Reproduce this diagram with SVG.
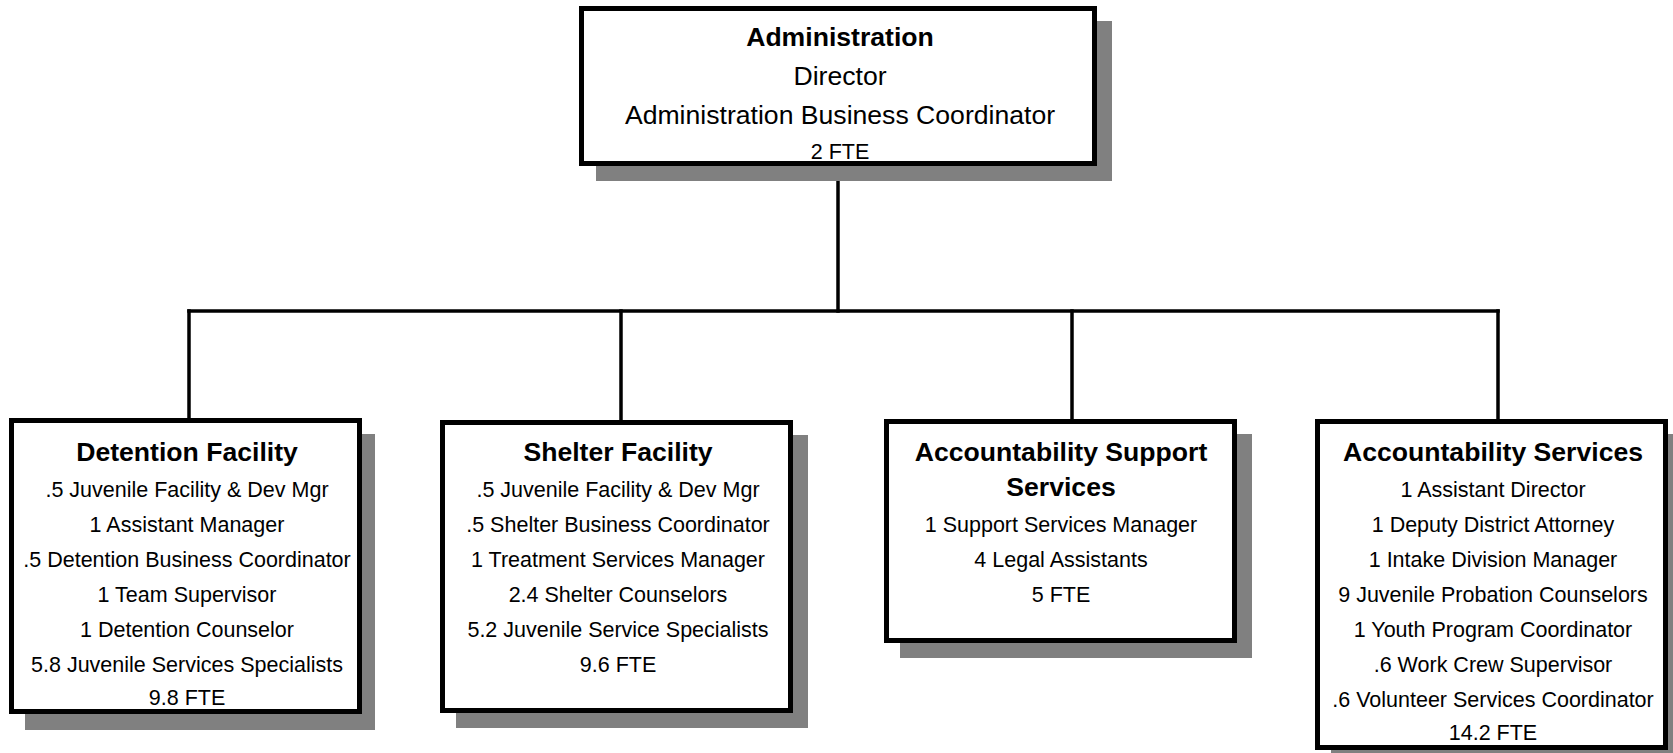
<svg xmlns="http://www.w3.org/2000/svg" width="1673" height="753" viewBox="0 0 1673 753">
  <style>
    .shadow { fill: #808080; }
    .box { fill: #ffffff; stroke: #000000; stroke-width: 5; }
    .wire { fill: none; stroke: #000000; stroke-width: 3.5; stroke-linecap: square; }
    text { font-family: "Liberation Sans", Arial, sans-serif; fill: #000000; text-anchor: middle; }
    .title { font-size: 26.6px; font-weight: bold; }
    .lead { font-size: 26.6px; }
    .line { font-size: 21.5px; }
  </style>
  <rect width="1673" height="753" fill="#ffffff"/>

  <!-- connectors -->
  <g id="connectors">
    <path class="wire" d="M838 166 V311"/>
    <path class="wire" d="M189 311 H1498"/>
    <path class="wire" d="M189 311 V419"/>
    <path class="wire" d="M621 311 V419"/>
    <path class="wire" d="M1072 311 V419"/>
    <path class="wire" d="M1498 311 V419"/>
  </g>

  <!-- Administration -->
  <g id="administration">
    <rect class="shadow" x="596" y="21" width="516" height="160"/>
    <rect class="box" x="581.5" y="8.5" width="513" height="155"/>
    <text class="title" x="840" y="46">Administration</text>
    <text class="lead" x="840" y="85">Director</text>
    <text class="lead" x="840" y="124">Administration Business Coordinator</text>
    <text class="line" x="840" y="159">2 FTE</text>
  </g>

  <!-- Detention Facility -->
  <g id="detention-facility">
    <rect class="shadow" x="25" y="434" width="350" height="296"/>
    <rect class="box" x="11.5" y="420.5" width="348" height="291"/>
    <text class="title" x="187" y="461">Detention Facility</text>
    <text class="line" x="187" y="497">.5 Juvenile Facility &amp; Dev Mgr</text>
    <text class="line" x="187" y="532">1 Assistant Manager</text>
    <text class="line" x="187" y="567">.5 Detention Business Coordinator</text>
    <text class="line" x="187" y="602">1 Team Supervisor</text>
    <text class="line" x="187" y="637">1 Detention Counselor</text>
    <text class="line" x="187" y="672">5.8 Juvenile Services Specialists</text>
    <text class="line" x="187" y="705">9.8 FTE</text>
  </g>

  <!-- Shelter Facility -->
  <g id="shelter-facility">
    <rect class="shadow" x="456" y="435" width="352" height="293"/>
    <rect class="box" x="442.5" y="422.5" width="348" height="288"/>
    <text class="title" x="618" y="461">Shelter Facility</text>
    <text class="line" x="618" y="497">.5 Juvenile Facility &amp; Dev Mgr</text>
    <text class="line" x="618" y="532">.5 Shelter Business Coordinator</text>
    <text class="line" x="618" y="567">1 Treatment Services Manager</text>
    <text class="line" x="618" y="602">2.4 Shelter Counselors</text>
    <text class="line" x="618" y="637">5.2 Juvenile Service Specialists</text>
    <text class="line" x="618" y="672">9.6 FTE</text>
  </g>

  <!-- Accountability Support Services -->
  <g id="accountability-support-services">
    <rect class="shadow" x="900" y="434" width="352" height="224"/>
    <rect class="box" x="886.5" y="421.5" width="348" height="219"/>
    <text class="title" x="1061" y="461">Accountability Support</text>
    <text class="title" x="1061" y="496">Services</text>
    <text class="line" x="1061" y="532">1 Support Services Manager</text>
    <text class="line" x="1061" y="567">4 Legal Assistants</text>
    <text class="line" x="1061" y="602">5 FTE</text>
  </g>

  <!-- Accountability Services -->
  <g id="accountability-services">
    <rect class="shadow" x="1331" y="434" width="342" height="319"/>
    <rect class="box" x="1317.5" y="421.5" width="348" height="326"/>
    <text class="title" x="1493" y="461">Accountability Services</text>
    <text class="line" x="1493" y="497">1 Assistant Director</text>
    <text class="line" x="1493" y="532">1 Deputy District Attorney</text>
    <text class="line" x="1493" y="567">1 Intake Division Manager</text>
    <text class="line" x="1493" y="602">9 Juvenile Probation Counselors</text>
    <text class="line" x="1493" y="637">1 Youth Program Coordinator</text>
    <text class="line" x="1493" y="672">.6 Work Crew Supervisor</text>
    <text class="line" x="1493" y="707">.6 Volunteer Services Coordinator</text>
    <text class="line" x="1493" y="740">14.2 FTE</text>
  </g>
</svg>
